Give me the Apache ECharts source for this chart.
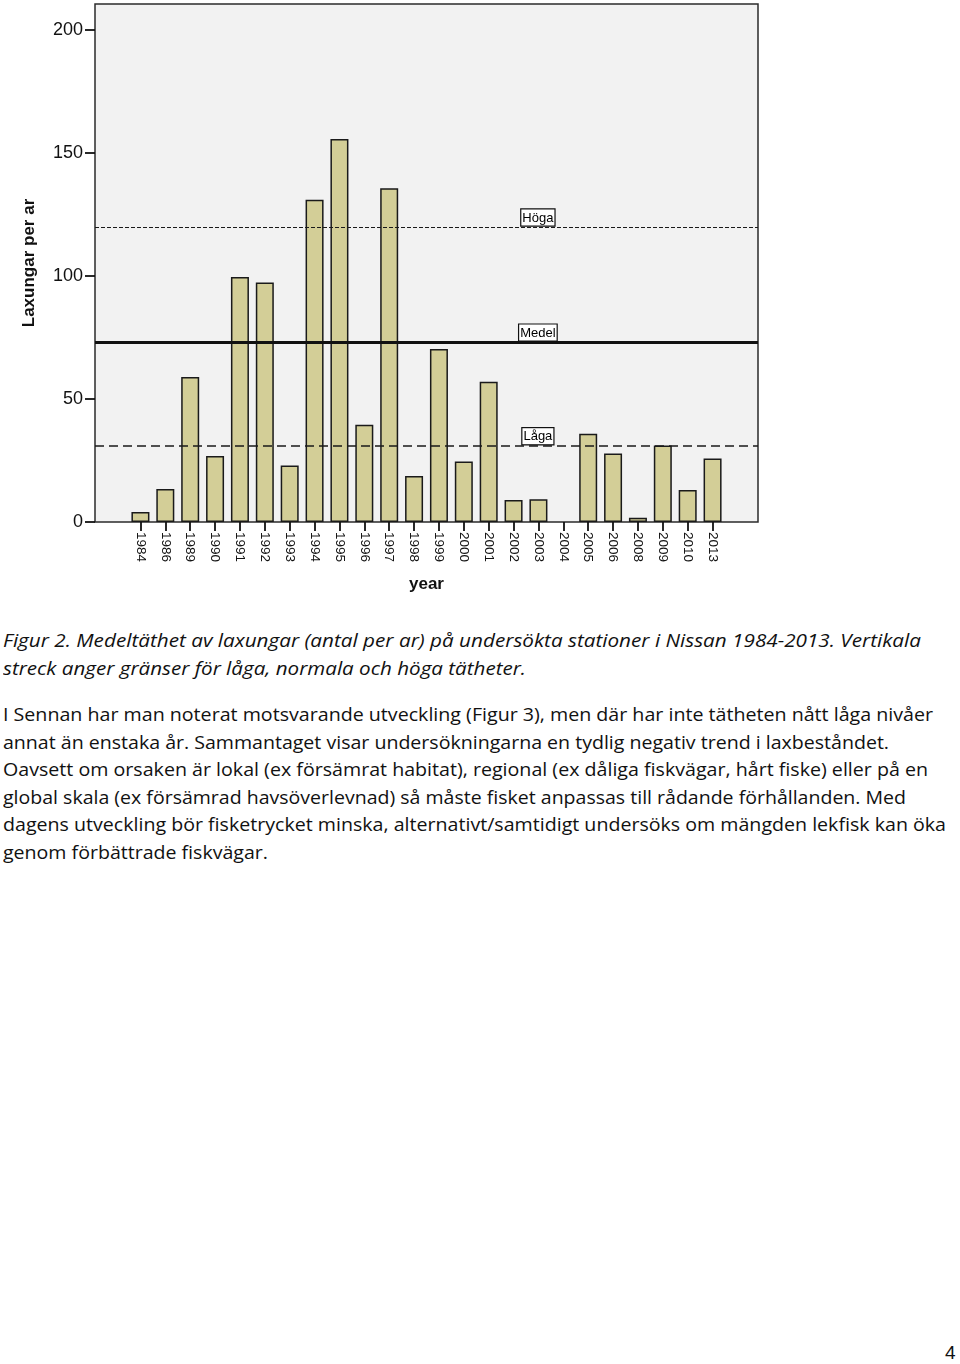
<!DOCTYPE html>
<html>
<head>
<meta charset="utf-8">
<script src="https://cdn.jsdelivr.net/npm/echarts@6/dist/echarts.min.js"></script>
<style>
  html, body { margin: 0; padding: 0; background: #fff; }
  body { width: 960px; height: 1364px; position: relative; overflow: hidden; }
  #chart { position: absolute; left: 0; top: 0; width: 960px; height: 600px; }
  .ln {
    position: absolute; left: 3px; white-space: nowrap;
    font-family: 'Open Sans', 'Noto Sans', sans-serif; font-size: 17.5px;
    line-height: 20px; color: #111; transform-origin: 0 0;
  }
  .cap { font-style: italic; }
  #page { position: absolute; left: 945px; top: 1342px; font-family: 'Liberation Sans', Arial, sans-serif; font-size: 19px; color: #111; }
</style>
</head>
<body>
<div id="chart"></div>

<div class="ln cap" style="top:630px" data-w="918">Figur 2. Medeltäthet av laxungar (antal per ar) på undersökta stationer i Nissan 1984-2013. Vertikala</div>
<div class="ln cap" style="top:658px" data-w="523">streck anger gränser för låga, normala och höga tätheter.</div>

<div class="ln" style="top:704px" data-w="930">I Sennan har man noterat motsvarande utveckling (Figur 3), men där har inte tätheten nått låga nivåer</div>
<div class="ln" style="top:731.5px" data-w="886">annat än enstaka år. Sammantaget visar undersökningarna en tydlig negativ trend i laxbeståndet.</div>
<div class="ln" style="top:759px" data-w="925">Oavsett om orsaken är lokal (ex försämrat habitat), regional (ex dåliga fiskvägar, hårt fiske) eller på en</div>
<div class="ln" style="top:786.5px" data-w="903">global skala (ex försämrad havsöverlevnad) så måste fisket anpassas till rådande förhållanden. Med</div>
<div class="ln" style="top:814px" data-w="943">dagens utveckling bör fisketrycket minska, alternativt/samtidigt undersöks om mängden lekfisk kan öka</div>
<div class="ln" style="top:841.5px" data-w="265">genom förbättrade fiskvägar.</div>

<div id="page">4</div>

<script>
// years with data (not every year was sampled)
const years = ['1984', '1986', '1989', '1990', '1991', '1992', '1993', '1994', '1995', '1996', '1997', '1998',
  '1999', '2000', '2001', '2002', '2003', '2004', '2005', '2006', '2008', '2009', '2010', '2013']
// laxungar per ar
const density = [4.1, 13.4, 58.9, 26.8, 99.6, 97.3, 23.0, 131.0, 155.6, 39.5, 135.6, 18.7,
  70.3, 24.6, 57.0, 8.9, 9.2, 0, 35.9, 27.8, 1.7, 31.1, 13.0, 25.8]
// reference levels
const levelNames = ['Höga', 'Medel', 'Låga']
const levelValues = [119.7, 72.9, 30.8]
const yTicks = [0, 50, 100, 150, 200]

const levelStyles = [
  { type: [4, 2], width: 1.2, color: '#1a1a1a' },
  { type: 'solid', width: 3, color: '#111' },
  { type: [9, 5], width: 1.5, color: '#1a1a1a' }
]

const chart = echarts.init(document.getElementById('chart'), null, { renderer: 'canvas' })

chart.setOption({
  animation: false,
  textStyle: { fontFamily: 'Liberation Sans, Arial, sans-serif' },
  grid: [
    {
      left: 95, top: 4, width: 663, height: 518,
      show: true, backgroundColor: '#f2f2f2', borderColor: '#2b2b2b', borderWidth: 1.5
    },
    { left: 128, top: 4, width: 597, height: 518 }
  ],
  xAxis: [
    { type: 'value', gridIndex: 0, min: 0, max: 1, show: false },
    {
      type: 'category',
      gridIndex: 1,
      data: years,
      axisLine: { show: false },
      axisTick: { show: true, alignWithLabel: true, length: 9, lineStyle: { color: '#111', width: 1.8 } },
      axisLabel: { interval: 0, rotate: -90, margin: 10, fontSize: 13.5, color: '#111' },
      name: 'year',
      nameLocation: 'middle',
      nameGap: 54,
      nameTextStyle: { fontWeight: 'bold', fontSize: 17, color: '#111' }
    }
  ],
  yAxis: [
    {
      type: 'value',
      gridIndex: 0,
      min: 0,
      max: 210.5,
      axisLine: { show: false },
      axisTick: { show: true, length: 10, customValues: yTicks, lineStyle: { color: '#111', width: 1.8 } },
      axisLabel: { fontSize: 18, color: '#111', margin: 12, customValues: yTicks },
      splitLine: { show: false },
      name: 'Laxungar per ar',
      nameLocation: 'middle',
      nameGap: 57,
      nameTextStyle: { fontWeight: 'bold', fontSize: 17, color: '#111' }
    },
    { type: 'value', gridIndex: 1, min: 0, max: 210.5, show: false }
  ],
  series: [
    {
      name: 'density',
      type: 'bar',
      xAxisIndex: 1,
      yAxisIndex: 1,
      barWidth: 18,
      silent: true,
      itemStyle: { color: '#d3ce97', borderColor: '#1a1a1a', borderWidth: 1.5 },
      // a zero year has no visible bar
      data: density.map(v => (v === 0 ? null : v))
    },
    {
      name: 'levels',
      type: 'line',
      xAxisIndex: 0,
      yAxisIndex: 0,
      z: 5,
      data: [],
      markLine: {
        symbol: 'none',
        silent: true,
        label: { show: false },
        data: levelValues.map((v, i) => ({ yAxis: v, lineStyle: levelStyles[i] }))
      },
      markPoint: {
        symbol: 'rect',
        symbolSize: 0,
        silent: true,
        label: {
          show: true,
          position: 'top',
          distance: 2,
          formatter: p => p.name,
          fontSize: 13,
          color: '#000',
          backgroundColor: '#fff',
          borderColor: '#111',
          borderWidth: 1.2,
          padding: [2, 1, 1, 1]
        },
        data: levelValues.map((v, i) => ({ name: levelNames[i], coord: [0.668, v] }))
      }
    }
  ]
})

// squeeze each text line to the width it has in the scanned page
function fitLines() {
  document.querySelectorAll('.ln').forEach(el => {
    const w = el.getBoundingClientRect().width
    const target = parseFloat(el.dataset.w)
    if (w > 0) el.style.transform = 'scaleX(' + (target / w) + ')'
  })
}
if (document.fonts && document.fonts.ready) {
  document.fonts.ready.then(fitLines)
} else {
  fitLines()
}
</script>
</body>
</html>
